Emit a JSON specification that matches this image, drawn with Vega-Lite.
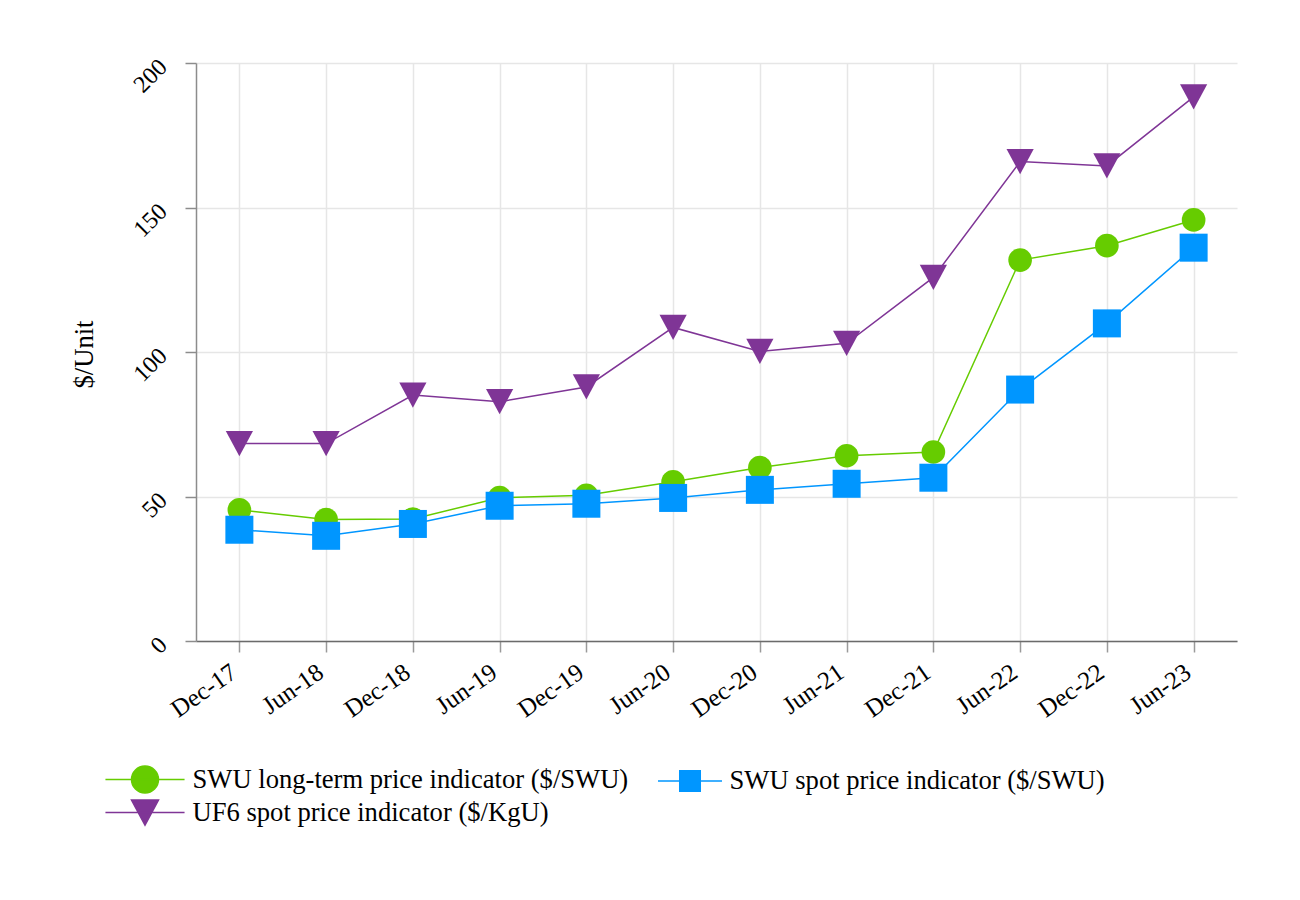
{
  "$schema": "https://vega.github.io/schema/vega-lite/v6.json",
  "width": 1041,
  "height": 578,
  "autosize": {"type": "none"},
  "padding": {"left": 196, "top": 63, "right": 63, "bottom": 259},
  "background": "white",
  "data": {
    "values": [
      {"period": "Dec-17", "series": "SWU long-term price indicator ($/SWU)", "price": 45.4},
      {"period": "Jun-18", "series": "SWU long-term price indicator ($/SWU)", "price": 42.0},
      {"period": "Dec-18", "series": "SWU long-term price indicator ($/SWU)", "price": 42.2},
      {"period": "Jun-19", "series": "SWU long-term price indicator ($/SWU)", "price": 49.6},
      {"period": "Dec-19", "series": "SWU long-term price indicator ($/SWU)", "price": 50.4},
      {"period": "Jun-20", "series": "SWU long-term price indicator ($/SWU)", "price": 55.1},
      {"period": "Dec-20", "series": "SWU long-term price indicator ($/SWU)", "price": 60.0},
      {"period": "Jun-21", "series": "SWU long-term price indicator ($/SWU)", "price": 64.1},
      {"period": "Dec-21", "series": "SWU long-term price indicator ($/SWU)", "price": 65.4},
      {"period": "Jun-22", "series": "SWU long-term price indicator ($/SWU)", "price": 131.8},
      {"period": "Dec-22", "series": "SWU long-term price indicator ($/SWU)", "price": 136.8},
      {"period": "Jun-23", "series": "SWU long-term price indicator ($/SWU)", "price": 145.7},
      {"period": "Dec-17", "series": "SWU spot price indicator ($/SWU)", "price": 38.5},
      {"period": "Jun-18", "series": "SWU spot price indicator ($/SWU)", "price": 36.4},
      {"period": "Dec-18", "series": "SWU spot price indicator ($/SWU)", "price": 40.5},
      {"period": "Jun-19", "series": "SWU spot price indicator ($/SWU)", "price": 46.8},
      {"period": "Dec-19", "series": "SWU spot price indicator ($/SWU)", "price": 47.5},
      {"period": "Jun-20", "series": "SWU spot price indicator ($/SWU)", "price": 49.5},
      {"period": "Dec-20", "series": "SWU spot price indicator ($/SWU)", "price": 52.3},
      {"period": "Jun-21", "series": "SWU spot price indicator ($/SWU)", "price": 54.4},
      {"period": "Dec-21", "series": "SWU spot price indicator ($/SWU)", "price": 56.5},
      {"period": "Jun-22", "series": "SWU spot price indicator ($/SWU)", "price": 87.0},
      {"period": "Dec-22", "series": "SWU spot price indicator ($/SWU)", "price": 109.9},
      {"period": "Jun-23", "series": "SWU spot price indicator ($/SWU)", "price": 136.1},
      {"period": "Dec-17", "series": "UF6 spot price indicator ($/KgU)", "price": 68.3},
      {"period": "Jun-18", "series": "UF6 spot price indicator ($/KgU)", "price": 68.3},
      {"period": "Dec-18", "series": "UF6 spot price indicator ($/KgU)", "price": 85.1},
      {"period": "Jun-19", "series": "UF6 spot price indicator ($/KgU)", "price": 82.8},
      {"period": "Dec-19", "series": "UF6 spot price indicator ($/KgU)", "price": 87.9},
      {"period": "Jun-20", "series": "UF6 spot price indicator ($/KgU)", "price": 108.5},
      {"period": "Dec-20", "series": "UF6 spot price indicator ($/KgU)", "price": 100.2},
      {"period": "Jun-21", "series": "UF6 spot price indicator ($/KgU)", "price": 103.0},
      {"period": "Dec-21", "series": "UF6 spot price indicator ($/KgU)", "price": 125.8},
      {"period": "Jun-22", "series": "UF6 spot price indicator ($/KgU)", "price": 165.9},
      {"period": "Dec-22", "series": "UF6 spot price indicator ($/KgU)", "price": 164.4},
      {"period": "Jun-23", "series": "UF6 spot price indicator ($/KgU)", "price": 188.3}
    ]
  },
  "encoding": {
    "x": {
      "field": "period",
      "type": "ordinal",
      "sort": null,
      "scale": {"type": "point", "padding": 0.5},
      "axis": {
        "title": null,
        "labelAngle": -35,
        "labelAlign": "right",
        "labelBaseline": "middle",
        "labelPadding": 17,
        "labelOffset": -6,
        "labelFontSize": 25,
        "tickSize": 11,
        "domainColor": "#6b6b6b",
        "domainWidth": 1.5,
        "tickColor": "#9a9a9a",
        "tickWidth": 1.5,
        "grid": true,
        "gridColor": "#e6e6e6",
        "gridWidth": 1.5
      }
    },
    "y": {
      "field": "price",
      "type": "quantitative",
      "scale": {"domain": [0, 200], "nice": false},
      "axis": {
        "title": "$/Unit",
        "titleFontWeight": "normal",
        "titleFontSize": 26.6,
        "titleAngle": -90,
        "titleAlign": "center",
        "titleBaseline": "alphabetic",
        "titleX": -104,
        "titleY": 291,
        "values": [0, 50, 100, 150, 200],
        "labelAngle": -45,
        "labelAlign": "right",
        "labelBaseline": "middle",
        "labelPadding": 22,
        "labelFontSize": 24,
        "tickSize": 11,
        "domainColor": "#8c8c8c",
        "domainWidth": 1.5,
        "tickColor": "#8c8c8c",
        "tickWidth": 1.5,
        "gridColor": "#e6e6e6",
        "gridWidth": 1.5
      }
    },
    "color": {
      "field": "series",
      "type": "nominal",
      "scale": {
        "domain": ["SWU long-term price indicator ($/SWU)", "SWU spot price indicator ($/SWU)", "UF6 spot price indicator ($/KgU)"],
        "range": ["#66cc00", "#0096ff", "#7f3596"]
      },
      "legend": {
        "title": null,
        "orient": "none",
        "direction": "horizontal",
        "legendX": -65.5,
        "legendY": 702,
        "columns": 2,
        "columnPadding": 26,
        "rowPadding": 0,
        "labelFontSize": 26.6,
        "labelOffset": 33,
        "labelLimit": 600,
        "symbolSize": 729,
        "encode": {
          "symbols": {
            "update": {
              "shape": {"signal": "datum.value === 'SWU long-term price indicator ($/SWU)' ? 'M-2.93,0H2.93M1,0A1,1 0 1,1 -1,0A1,1 0 1,1 1,0Z' : datum.value === 'SWU spot price indicator ($/SWU)' ? 'M-2.37,0H2.37M-0.76,-0.76H0.76V0.76H-0.76Z' : 'M-2.93,0H2.93M-1,-0.93H1L0,0.93Z'"},
              "fill": {"signal": "scale('color', datum.value)"},
              "stroke": {"signal": "scale('color', datum.value)"},
              "strokeWidth": {"value": 1.5},
              "opacity": {"value": 1}
            }
          },
          "labels": {
            "update": {
              "dx": {"signal": "datum.value === 'SWU spot price indicator ($/SWU)' ? -8 : 0"}
            }
          }
        }
      }
    }
  },
  "layer": [
    {
      "mark": {"type": "line", "strokeWidth": 1.5}
    },
    {
      "transform": [{"filter": "datum.series === 'SWU long-term price indicator ($/SWU)'"}],
      "mark": {"type": "point", "shape": "circle", "filled": true, "opacity": 1, "size": 560}
    },
    {
      "transform": [{"filter": "datum.series === 'SWU spot price indicator ($/SWU)'"}],
      "mark": {"type": "point", "shape": "square", "filled": true, "opacity": 1, "size": 784}
    },
    {
      "transform": [{"filter": "datum.series === 'UF6 spot price indicator ($/KgU)'"}],
      "mark": {"type": "point", "shape": "M-1,-0.93L1,-0.93L0,0.93Z", "filled": true, "opacity": 1, "size": 740}
    }
  ],
  "config": {
    "font": "Liberation Serif",
    "view": {"stroke": null},
    "axis": {
      "labelFont": "Liberation Serif",
      "titleFont": "Liberation Serif",
      "labelColor": "#000000",
      "titleColor": "#000000"
    },
    "legend": {
      "labelFont": "Liberation Serif",
      "labelColor": "#000000"
    }
  }
}
